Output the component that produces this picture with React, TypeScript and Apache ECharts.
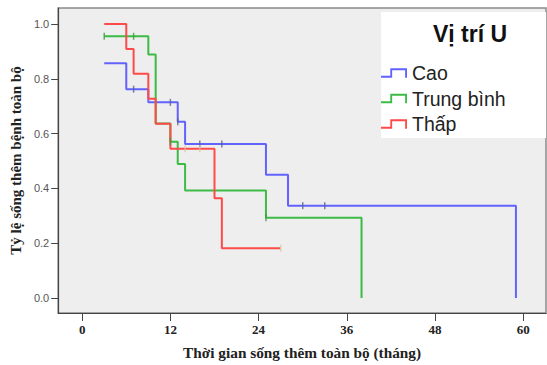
import React, { useEffect, useRef } from "react";
import * as echarts from "echarts";

// Tick labels
const xTicks = [0, 12, 24, 36, 48, 60];
const yTicks = [0, 0.2, 0.4, 0.6, 0.8, 1.0];

// Group names
const groupNames = ["Cao", "Trung bình", "Thấp"];

// Cao (blue) — survival steps
const caoTimes = [3, 6, 9, 13, 14, 25, 28, 59];
const caoSurv = [0.857, 0.762, 0.714, 0.643, 0.562, 0.45, 0.337, 0];
const caoCensorTimes = [7, 12, 13, 16, 19, 30, 33];
const caoCensorSurv = [0.762, 0.714, 0.643, 0.562, 0.562, 0.337, 0.337];

// Trung bình (green)
const tbTimes = [3, 9, 10, 12, 13, 14, 25, 38];
const tbSurv = [0.955, 0.889, 0.637, 0.57, 0.489, 0.392, 0.293, 0];
const tbCensorTimes = [3, 7, 12, 25];
const tbCensorSurv = [0.955, 0.955, 0.57, 0.293];

// Thấp (red)
const thapTimes = [3, 6, 7, 9, 10, 12, 18, 19, 27];
const thapSurv = [1.0, 0.909, 0.818, 0.727, 0.636, 0.545, 0.364, 0.182, 0.182];
const thapCensorTimes = [14, 16, 27];
const thapCensorSurv = [0.545, 0.545, 0.182];

const colors = ["#6262ff", "#3cbb46", "#ff4a4a"];
const censorColors = ["#56638f", "#3a9a44", "#d9c9a0"];

const zip = (a: number[], b: number[]) => a.map((v, i) => [v, b[i]]);

const stepIcon =
  "path://M0,8 L10,8 L10,0 L28,0 L28,10 L26,10 L26,2 L12,2 L12,10 L0,10 Z";

export default function App() {
  const ref = useRef<HTMLDivElement>(null);
  useEffect(() => {
    if (!ref.current) return;
    const chart = echarts.init(ref.current, undefined, { renderer: "svg" });
    const lines = [
      [caoTimes, caoSurv, caoCensorTimes, caoCensorSurv],
      [tbTimes, tbSurv, tbCensorTimes, tbCensorSurv],
      [thapTimes, thapSurv, thapCensorTimes, thapCensorSurv],
    ];
    const series: any[] = [];
    lines.forEach((g, i) => {
      series.push({
        name: groupNames[i],
        type: "line",
        step: "end",
        symbol: "none",
        data: zip(g[0], g[1]),
        lineStyle: { color: colors[i], width: 2 },
        itemStyle: { color: colors[i] },
        z: 2 + i,
      });
      series.push({
        name: groupNames[i] + " censored",
        type: "scatter",
        symbol: "rect",
        symbolSize: [1.5, 7],
        data: zip(g[2], g[3]),
        itemStyle: { color: censorColors[i] },
        z: 6 + i,
      });
    });

    chart.setOption({
      animation: false,
      backgroundColor: "#ffffff",
      grid: {
        left: 57,
        top: 8,
        right: 1,
        bottom: 52,
        show: true,
        backgroundColor: "#eeeeee",
        borderColor: "#8a8a8a",
        borderWidth: 1.5,
      },
      title: {
        text: "Vị trí U",
        left: 470,
        textAlign: "center",
        top: 22,
        padding: 0,
        textStyle: {
          fontFamily: "Liberation Sans",
          fontWeight: "bold",
          fontSize: 23,
          color: "#111",
        },
      },
      graphic: [
        {
          type: "rect",
          left: 381,
          top: 12,
          shape: { width: 165, height: 126 },
          style: { fill: "#ffffff" },
          z: 1,
        },
      ],
      legend: {
        data: groupNames,
        orient: "vertical",
        left: 381,
        top: 63,
        padding: 0,
        itemWidth: 26,
        itemHeight: 10,
        itemGap: 5.5,
        icon: stepIcon,
        textStyle: {
          fontFamily: "Liberation Sans",
          fontSize: 19.5,
          lineHeight: 20,
          color: "#222",
        },
        z: 10,
      },
      xAxis: {
        type: "value",
        min: -3.26,
        max: 63.09,
        splitLine: { show: false },
        axisLine: { show: true, onZero: false, lineStyle: { color: "#444", width: 1.2 } },
        axisTick: { show: true, length: 8, lineStyle: { color: "#444" }, customValues: xTicks },
        axisLabel: {
          customValues: xTicks,
          fontFamily: "Liberation Serif",
          fontWeight: "bold",
          fontSize: 13,
          color: "#222",
          margin: 10,
        },
        name: "Thời gian sống thêm toàn bộ (tháng)",
        nameLocation: "middle",
        nameGap: 32,
        nameTextStyle: {
          fontFamily: "Liberation Serif",
          fontWeight: "bold",
          fontSize: 15.3,
          color: "#222",
        },
      },
      yAxis: {
        type: "value",
        min: -0.0547,
        max: 1.0584,
        splitLine: { show: false },
        axisLine: { show: true, onZero: false, lineStyle: { color: "#444", width: 1.2 } },
        axisTick: { show: true, length: 7, lineStyle: { color: "#444" }, customValues: yTicks },
        axisLabel: {
          customValues: yTicks,
          formatter: (v: number) => v.toFixed(1),
          fontFamily: "Liberation Sans",
          fontSize: 11,
          color: "#555",
          margin: 9,
        },
        name: "Tỷ lệ sống thêm bệnh toàn bộ",
        nameLocation: "middle",
        nameGap: 27,
        nameTextStyle: {
          fontFamily: "Liberation Serif",
          fontWeight: "bold",
          fontSize: 15,
          color: "#222",
        },
      },
      series,
    });
    return () => chart.dispose();
  }, []);
  return (
    <div
      ref={ref}
      style={{ position: "fixed", left: 0, top: 0, width: 547, height: 365 }}
    />
  );
}
